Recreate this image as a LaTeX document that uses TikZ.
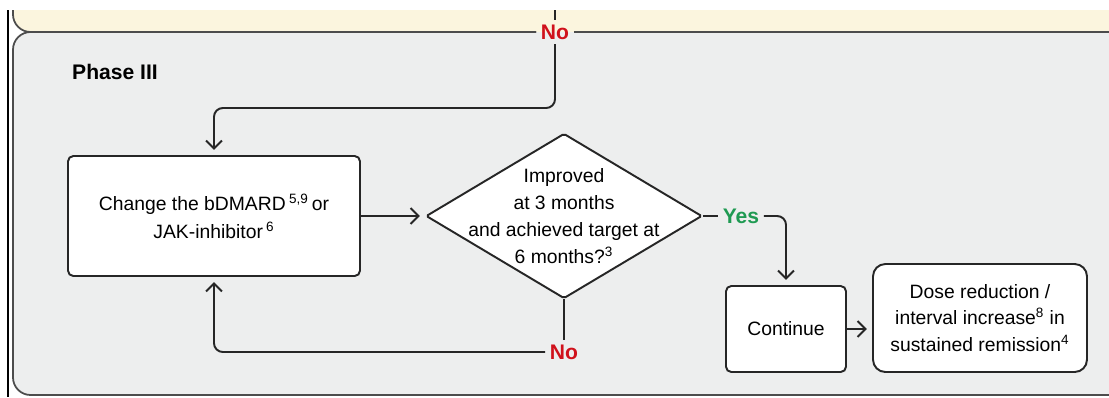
\documentclass[tikz,border=0pt]{standalone}
\usepackage{fontspec}
\setmainfont{Liberation Sans}
\usetikzlibrary{shapes.geometric,positioning,arrows.meta}
\definecolor{phasegray}{HTML}{EDEEEE}
\definecolor{phaseyellow}{HTML}{FBF5DE}
\definecolor{noRed}{HTML}{D0111B}
\definecolor{yesGreen}{HTML}{1F9A52}

\begin{document}
\begin{tikzpicture}[x=0.02cm,y=-0.02cm,
    >={Straight Barb[length=4.5pt,width=9pt]},
    flowbox/.style={draw=black!85, line width=1.1pt, fill=white, rounded corners=3pt, align=center, inner sep=0pt},
    flowline/.style={draw=black!85, line width=1.1pt, rounded corners=5pt},
    panelline/.style={draw=black!70, line width=1pt},
    answer/.style={font=\bfseries\fontsize{12}{12}\selectfont, inner sep=2.5pt}]
\useasboundingbox (0,0) rectangle (1109,397);
\clip (0,0) rectangle (1109,397);

% panels
\fill[phaseyellow] (13,10) [rounded corners=10] -- (13,32) -- (1130,32) [sharp corners] -- (1130,10) -- cycle;
\fill[phasegray, rounded corners=10] (13,32) rectangle (1130,395);
\draw[black, line width=1.6pt] (8,10) -- (8,397);

\node[font=\bfseries\fontsize{12}{12}\selectfont, anchor=west] (phase) at (66,72) {Phase III};

\node[answer, text=noRed] (topNo) at (555,32) {No};
\draw[panelline, rounded corners=10] (13,10) -- (13,32) -- (topNo.west);
\draw[panelline, rounded corners=10] (topNo.west) -- (13,32) -- (13,395) -- (1130,395);
\draw[panelline] (topNo.east) -- (1130,32);

% boxes
\node[flowbox, minimum width=5.84cm, minimum height=2.4cm,
      font=\fontsize{11}{16}\selectfont] (change) at (214,216)
      {Change the bDMARD\,\textsuperscript{5,9}\,or\\JAK-inhibitor\,\textsuperscript{6}};
\node[flowbox, diamond, rounded corners=1pt, minimum width=5.52cm, minimum height=3.3cm] (q) at (564,216) {};
\node[align=center, font=\fontsize{11}{15.5}\selectfont] (qtext) at (q) {Improved\\at 3 months\\and achieved target at\\6 months?\textsuperscript{3}};
\node[flowbox, minimum width=2.4cm, minimum height=1.72cm,
      font=\fontsize{11}{15}\selectfont] (cont) at (786,329) {Continue};
\node[flowbox, rounded corners=7pt, minimum width=4.28cm, minimum height=2.16cm,
      font=\fontsize{11}{15}\selectfont] (dose) at (980,318)
      {Dose reduction /\\interval increase\textsuperscript{8} in\\sustained remission\textsuperscript{4}};

\node[answer, text=noRed] (botNo) at (564,352) {No};
\node[answer, text=yesGreen] (yes) at (741,216) {Yes};

% connectors
\coordinate (topTurn) at (555,108);
\draw[flowline] (555,10) -- (topNo.north);
\draw[flowline, ->, shorten >=3pt] (topNo.south) -- (topTurn) -| (change.north);
\draw[flowline, ->, shorten >=3pt] (change.east) -- (q.west);
\draw[flowline] (q.south) -- (botNo.north);
\draw[flowline, ->, shorten >=3pt] (botNo.west) -| (change.south);
\draw[flowline] (q.east) -- (yes.west);
\draw[flowline, ->, shorten >=3pt] (yes.east) -| (cont.north);
\draw[flowline, ->, shorten >=3pt] (cont.east) -- (cont.east -| dose.west);
\end{tikzpicture}
\end{document}
